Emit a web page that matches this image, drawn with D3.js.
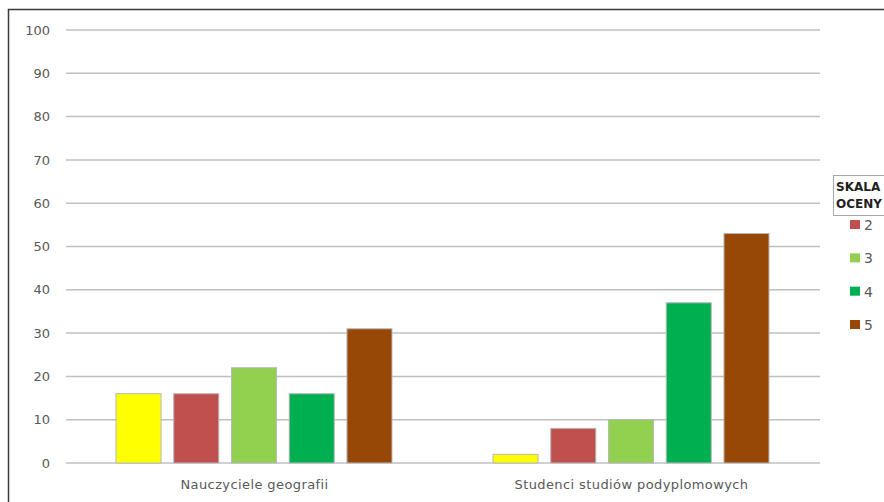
<!DOCTYPE html>
<html>
<head>
<meta charset="utf-8">
<script src="https://cdn.jsdelivr.net/npm/d3@7"></script>
<style>
  body { margin: 0; background: #fff; }
  text { font-family: "DejaVu Sans", sans-serif; }
</style>
</head>
<body>
<script>
var categories = ["Nauczyciele geografii", "Studenci studiów podyplomowych"]
var grades = ["1", "2", "3", "4", "5"]
var values = [
    [16, 16, 22, 16, 31],
    [2, 8, 10, 37, 53]
]
var colors = ["#ffff00", "#c0504d", "#92d050", "#00b050", "#974706"]
var yTicks = [0, 10, 20, 30, 40, 50, 60, 70, 80, 90, 100]
var legendGrades = ["2", "3", "4", "5"]

const width = 884
const height = 502

var svg = d3.select("body").append("svg").attr("width", width).attr("height", height)

// outer frame
svg.append("path")
    .attr("d", "M8.5," + height + " V9.5 H" + width)
    .attr("fill", "none")
    .attr("stroke", "#3a3a3a")
    .attr("stroke-width", 1.5)

var xScale = d3.scaleBand().domain(categories).range([66, 820])
var inner = d3.scaleBand().domain(grades).range([50, 326]).paddingInner(0.22)
var yScale = d3.scaleLinear().domain([0, 100]).range([463, 30])

// gridlines
svg.append("g").selectAll("line").data(yTicks).enter()
    .append("line")
    .attr("x1", 66).attr("x2", 820)
    .attr("y1", (d) => yScale(d)).attr("y2", (d) => yScale(d))
    .attr("stroke", "#c0c0c0")
    .attr("stroke-width", 1.5)

// y labels
var yAxis = svg.append("g")
    .attr("transform", "translate(50, 0)")
    .call(d3.axisLeft(yScale).tickValues(yTicks).tickSize(0).tickPadding(0))
yAxis.select(".domain").remove()
yAxis.selectAll("text").attr("fill", "#595959").attr("font-size", "13px")
    .attr("font-family", "DejaVu Sans, sans-serif")

// bars
var groups = svg.selectAll(".grp").data(values).enter()
    .append("g")
    .attr("class", "grp")
    .attr("transform", (d, i) => "translate(" + xScale(categories[i]) + ",0)")

groups.selectAll("rect").data((d) => d).enter()
    .append("rect")
    .attr("x", (d, i) => inner(grades[i]))
    .attr("width", inner.bandwidth())
    .attr("y", (d) => yScale(d))
    .attr("height", (d) => yScale(0) - yScale(d))
    .attr("fill", (d, i) => colors[i])
    .attr("stroke", "#b8b8b8")
    .attr("stroke-width", 1)

// category labels
var xAxis = svg.append("g")
    .attr("transform", "translate(0, 463)")
    .call(d3.axisBottom(xScale).tickSize(0).tickPadding(17))
xAxis.select(".domain").remove()
xAxis.selectAll("text").attr("fill", "#595959").attr("font-size", "13px")
    .attr("font-family", "DejaVu Sans, sans-serif")
    .attr("letter-spacing", "0.4px")

// legend
var legend = svg.append("g")
legend.append("rect")
    .attr("x", 833.5).attr("y", 175.5).attr("width", 60).attr("height", 40)
    .attr("fill", "#fff").attr("stroke", "#a6a6a6")
legend.append("text").attr("x", 836).attr("y", 191).text("SKALA")
    .attr("font-weight", "bold").attr("font-size", "12px").attr("fill", "#1f1f1f")
legend.append("text").attr("x", 836).attr("y", 208).text("OCENY")
    .attr("font-weight", "bold").attr("font-size", "12px").attr("fill", "#1f1f1f")

var legendY = d3.scalePoint().domain(legendGrades).range([225, 325])
var items = legend.selectAll(".item").data(legendGrades).enter()
    .append("g")
    .attr("class", "item")
    .attr("transform", (d) => "translate(850," + legendY(d) + ")")
items.append("rect")
    .attr("x", 0).attr("y", -5).attr("width", 10).attr("height", 9)
    .attr("fill", (d) => colors[grades.indexOf(d)])
items.append("text")
    .attr("x", 14).attr("y", 5)
    .text((d) => d)
    .attr("font-size", "14px")
    .attr("fill", "#595959")
</script>
</body>
</html>
